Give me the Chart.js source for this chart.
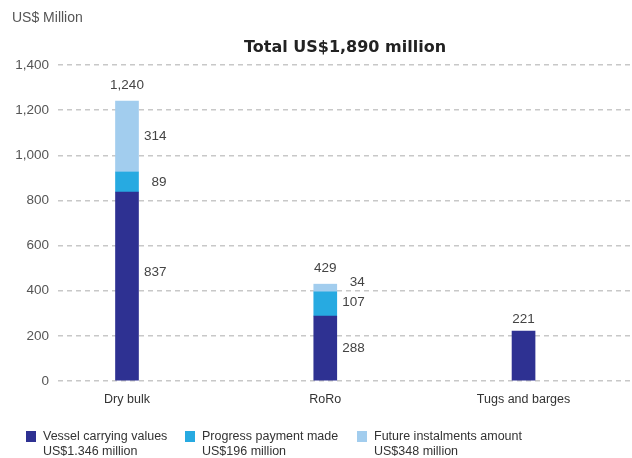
<!DOCTYPE html>
<html>
<head>
<meta charset="utf-8">
<script src="https://cdn.jsdelivr.net/npm/chart.js@4.4.1/dist/chart.umd.min.js"></script>
<style>
  html, body { margin: 0; padding: 0; background: #fff; }
  #wrap { width: 632px; height: 458px; }
</style>
</head>
<body>
<div id="wrap"><canvas id="fleet-chart"></canvas></div>
<script>
const categories = ['Dry bulk', 'RoRo', 'Tugs and barges'];
const vessel_values = [837, 288, 221];
const progress_values = [89, 107, null];
const future_values = [314, 34, null];
const totals = [1240, 429, 221];

const legend_lines = [
    ['Vessel carrying values', 'US$1.346 million'],
    ['Progress payment made', 'US$196 million'],
    ['Future instalments amount', 'US$348 million'],
];
const colors = ['#2e3192', '#27aae1', '#a2cdee'];

const FONT = '"Liberation Sans", Arial, Helvetica, sans-serif';

function toPoints(arr) {
    return arr.map((v, i) => ({ x: i, y: v }));
}

const data_bar = {
    datasets: [{
        label: legend_lines[0].join(' '),
        backgroundColor: colors[0],
        data: toPoints(vessel_values),
    },
    {
        label: legend_lines[1].join(' '),
        backgroundColor: colors[1],
        data: toPoints(progress_values),
    },
    {
        label: legend_lines[2].join(' '),
        backgroundColor: colors[2],
        data: toPoints(future_values),
    }]
};

// small vertical nudges for segment labels (dataset-category)
const nudge = { '0-0': -14, '1-1': -2, '2-1': -6 };

// labels next to the segments, totals on top, title and legend
const annotate = {
    id: 'annotate',
    afterDatasetsDraw(chart) {
        const ctx = chart.ctx;
        ctx.save();
        ctx.font = '13.5px ' + FONT;
        ctx.fillStyle = '#444';
        ctx.textBaseline = 'middle';

        chart.data.datasets.forEach((ds, di) => {
            const meta = chart.getDatasetMeta(di);
            meta.data.forEach((bar, i) => {
                const v = ds.data[i].y;
                if (v == null) return;
                if (categories[i] === 'Tugs and barges') return;
                const p = bar.getProps(['x', 'y', 'base', 'width'], true);
                const dy = nudge[di + '-' + i] || 0;
                ctx.textAlign = 'right';
                ctx.fillText(String(v), p.x + p.width / 2 + 28, (p.y + p.base) / 2 + dy);
            });
        });

        // totals
        const yScale = chart.scales.y;
        const xScale = chart.scales.x;
        ctx.textAlign = 'center';
        totals.forEach((t, i) => {
            const gap = categories[i] === 'Tugs and barges' ? 12 : 16;
            ctx.fillText(t.toLocaleString('en-US'), xScale.getPixelForValue(i), yScale.getPixelForValue(t) - gap);
        });
        ctx.restore();
    },
    afterDraw(chart) {
        const ctx = chart.ctx;
        ctx.save();
        ctx.textBaseline = 'middle';

        ctx.font = '14px ' + FONT;
        ctx.fillStyle = '#555';
        ctx.textAlign = 'left';
        ctx.fillText('US$ Million', 12, 18);

        ctx.font = 'bold 16px "DejaVu Sans", sans-serif';
        ctx.fillStyle = '#222';
        ctx.textAlign = 'center';
        ctx.fillText('Total US$1,890 million', 345, 48);

        // legend
        const boxX = [26, 185, 357];
        ctx.font = '12.5px ' + FONT;
        ctx.textAlign = 'left';
        legend_lines.forEach((lines, i) => {
            ctx.fillStyle = colors[i];
            ctx.fillRect(boxX[i], 431, 10, 11);
            ctx.fillStyle = '#333';
            ctx.fillText(lines[0], boxX[i] + 17, 437);
            ctx.fillText(lines[1], boxX[i] + 17, 452);
        });
        ctx.restore();
    }
};

const config_bar = {
    type: 'bar',
    data: data_bar,
    plugins: [annotate],
    options: {
        responsive: true,
        maintainAspectRatio: false,
        animation: false,
        barThickness: 23,
        layout: {
            padding: { top: 65, right: 0, bottom: 48, left: 0 }
        },
        plugins: {
            legend: { display: false },
            title: { display: false },
            tooltip: { enabled: false }
        },
        scales: {
            x: {
                type: 'linear',
                stacked: true,
                offset: false,
                min: -0.348,
                max: 2.547,
                grid: { display: false },
                border: { display: false },
                afterBuildTicks: (scale) => {
                    scale.ticks = categories.map((c, i) => ({ value: i }));
                },
                ticks: {
                    padding: 3,
                    color: '#333',
                    font: { family: FONT, size: 12.5 },
                    callback: (v) => categories[v]
                }
            },
            y: {
                stacked: true,
                min: 0,
                max: 1400,
                afterFit: (scale) => { scale.width = 58; },
                grid: {
                    drawTicks: false,
                    color: '#c8c8c8',
                    lineWidth: 1.5
                },
                border: { display: false, dash: [5, 4] },
                ticks: {
                    stepSize: 200,
                    padding: 9,
                    color: '#555',
                    font: { family: FONT, size: 13.5 },
                    callback: (v) => v.toLocaleString('en-US')
                }
            }
        }
    }
};

var chart_bar = new Chart(
    document.getElementById('fleet-chart'),
    config_bar
);
</script>
</body>
</html>
